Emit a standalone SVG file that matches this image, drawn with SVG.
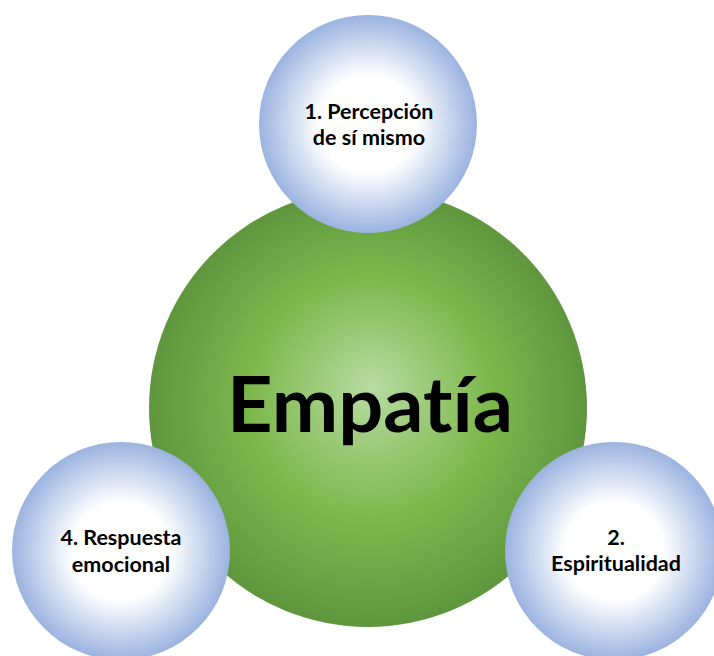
<svg xmlns="http://www.w3.org/2000/svg" width="714" height="656" viewBox="0 0 714 656">
<defs>
<radialGradient id="gGreen" cx="0.5" cy="0.5" r="0.5" fx="0.51" fy="0.45">
<stop offset="0" stop-color="#b8dba2"/>
<stop offset="0.55" stop-color="#7db84c"/>
<stop offset="1" stop-color="#5f963e"/>
</radialGradient>
<radialGradient id="gBlue" cx="0.5" cy="0.5" r="0.5">
<stop offset="0" stop-color="#ffffff"/>
<stop offset="0.45" stop-color="#ffffff"/>
<stop offset="1" stop-color="#9bb3e0"/>
</radialGradient>
</defs>
<style>
.lbl{font-family:Lato,"Liberation Sans",sans-serif;font-weight:bold;font-size:21.5px;fill:#000;text-anchor:middle;font-variant-ligatures:none}
.main{font-family:Lato,"Liberation Sans",sans-serif;font-weight:bold;font-size:76px;fill:#000;text-anchor:middle;font-variant-ligatures:none}
</style>
<rect width="714" height="656" fill="#ffffff"/>
<g id="connectors"></g>
<g id="node-center">
<circle cx="368" cy="408" r="219" fill="url(#gGreen)"/>
<text class="main" x="370" y="432" textLength="286" lengthAdjust="spacingAndGlyphs">Empatía</text>
</g>
<g id="node-1">
<circle cx="368" cy="124" r="109" fill="url(#gBlue)"/>
<text class="lbl" x="369" y="119">1. Percepción</text>
<text class="lbl" x="369" y="145">de sí mismo</text>
</g>
<g id="node-2">
<circle cx="614" cy="551" r="109" fill="url(#gBlue)"/>
<text class="lbl" x="616" y="545">2.</text>
<text class="lbl" x="616" y="571">Espiritualidad</text>
</g>
<g id="node-4">
<circle cx="121" cy="551" r="109" fill="url(#gBlue)"/>
<text class="lbl" x="121" y="545">4. Respuesta</text>
<text class="lbl" x="121" y="572">emocional</text>
</g>
</svg>
